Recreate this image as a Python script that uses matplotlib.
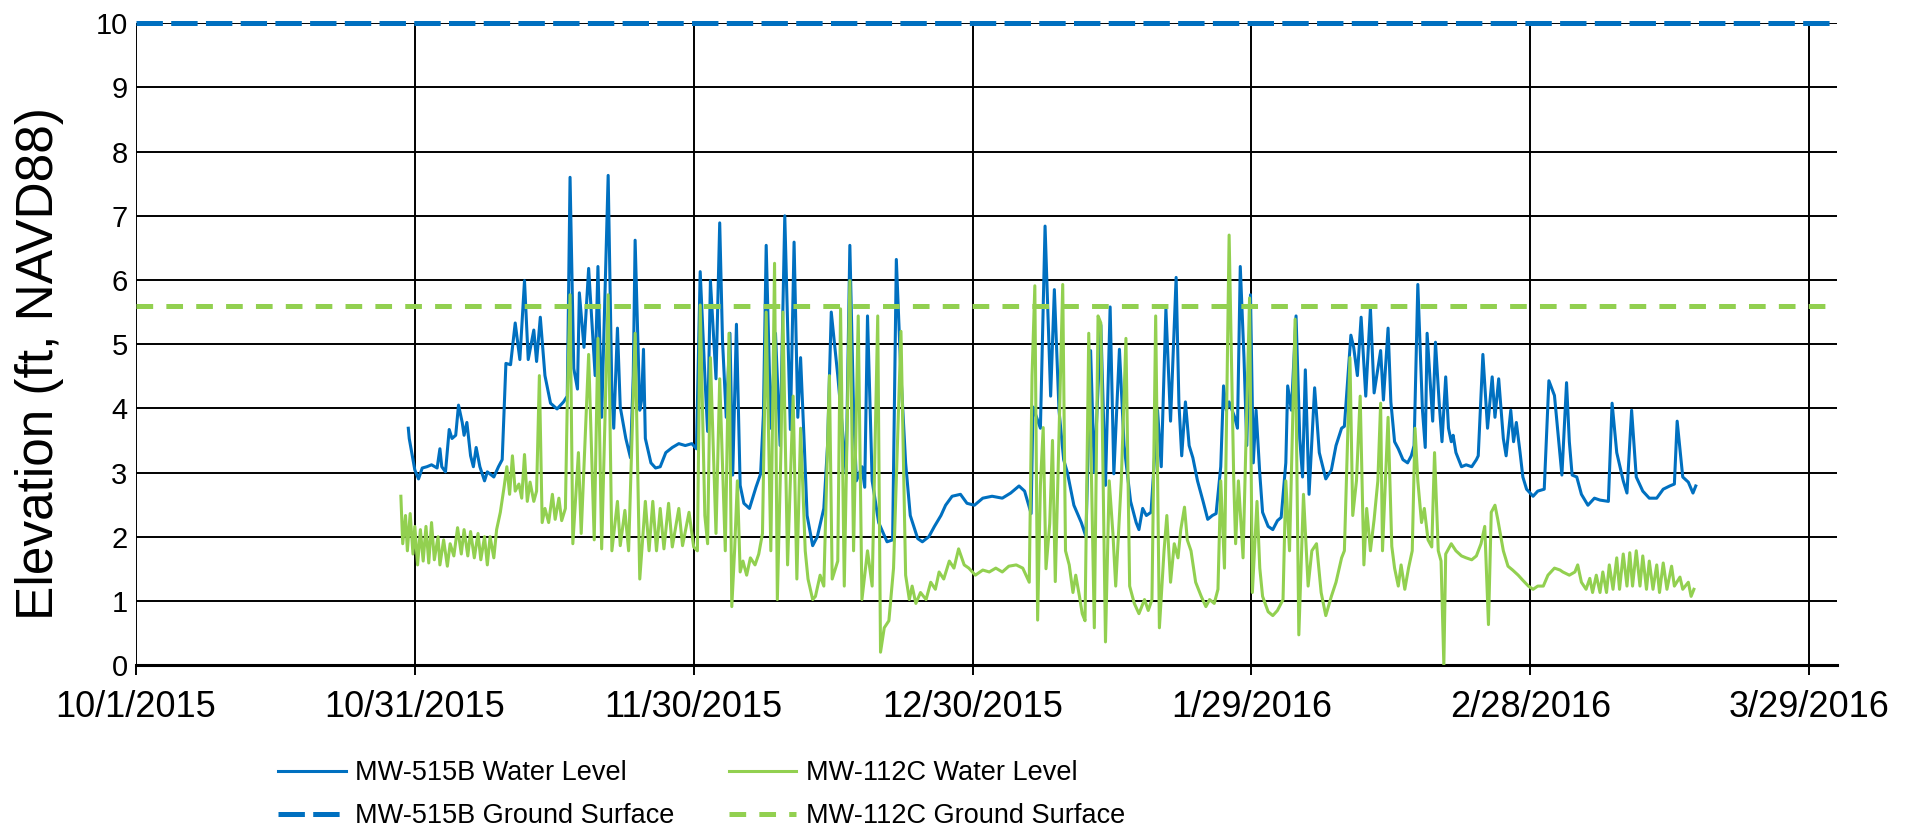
import numpy as np
import pandas as pd
import matplotlib
matplotlib.use('Agg')
from matplotlib import pyplot as plt

# days after 10/1/2015 and elevations (ft, NAVD88)
mw515b_days = [29.3, 29.4, 30.0, 30.4, 30.8, 31.3, 31.8, 32.4, 32.7, 32.9, 33.3, 33.7, 34.0, 34.4, 34.7,
               35.1, 35.3, 35.6, 36.0, 36.3, 36.6, 37.0, 37.5, 37.8, 38.5, 39.0, 39.4, 39.6, 39.8, 40.3,
               40.8, 41.3, 41.8, 42.2, 42.8, 43.1, 43.5, 44.0, 44.6, 45.3, 46.0, 46.4, 46.7, 47.1, 47.5,
               47.7, 48.2, 48.7, 49.4, 49.7, 50.1, 50.8, 51.2, 51.4, 51.8, 52.1, 52.7, 53.2, 53.5, 53.7,
               54.2, 54.4, 54.6, 54.8, 55.4, 55.9, 56.4, 57.0, 57.7, 58.4, 59.1, 59.8, 60.3, 60.7, 61.2,
               61.5, 61.8, 62.4, 62.8, 63.1, 63.5, 63.9, 64.2, 64.6, 65.0, 65.4, 66.0, 66.7, 67.2, 67.5,
               67.8, 68.3, 68.8, 69.3, 69.8, 70.4, 70.8, 71.2, 71.5, 71.9, 72.2, 72.8, 73.3, 74.0, 74.4,
               74.8, 75.5, 75.8, 76.4, 76.8, 77.2, 77.5, 78.1, 78.4, 78.7, 79.2, 79.9, 80.8, 81.4, 81.8,
               82.3, 82.8, 83.3, 84.1, 84.6, 85.3, 85.9, 86.6, 87.1, 87.8, 88.7, 89.4, 90.2, 91.1, 92.1,
               93.2, 94.1, 95.0, 95.6, 96.3, 96.5, 97.3, 97.8, 98.4, 98.8, 99.3, 99.8, 100.2, 100.9, 101.7,
               102.2, 102.7, 103.1, 103.8, 104.3, 104.8, 105.2, 105.8, 106.3, 107.0, 107.6, 107.9, 108.3,
               108.7, 109.2, 109.9, 110.3, 110.8, 111.3, 111.9, 112.2, 112.5, 112.9, 113.3, 113.7, 114.2,
               114.8, 115.3, 115.8, 116.2, 116.7, 117.0, 117.3, 117.6, 118.2, 118.5, 118.8, 119.2, 119.5,
               119.9, 120.2, 120.5, 120.9, 121.2, 121.8, 122.3, 122.8, 123.2, 123.7, 123.9, 124.3, 124.8,
               125.2, 125.5, 125.8, 126.2, 126.8, 127.3, 128.0, 128.6, 129.1, 129.7, 130.0, 130.7, 131.0,
               131.4, 131.8, 132.3, 132.8, 133.2, 133.9, 134.2, 134.7, 135.0, 135.4, 135.8, 136.3, 136.8,
               137.2, 137.5, 137.9, 138.4, 138.7, 138.9, 139.3, 139.5, 139.8, 140.2, 140.5, 140.9, 141.2,
               141.5, 141.7, 142.0, 142.6, 143.1, 143.7, 144.2, 144.4, 144.9, 145.4, 145.9, 146.2, 146.6,
               147.1, 147.4, 147.9, 148.2, 148.5, 148.9, 149.2, 149.6, 150.3, 150.8, 151.5, 151.7, 152.0,
               152.6, 153.1, 153.4, 153.9, 154.2, 154.5, 155.0, 155.5, 156.2, 156.9, 157.5, 158.4, 158.8,
               159.3, 160.0, 160.4, 160.9, 161.4, 162.1, 162.8, 163.6, 164.3, 165.0, 165.5, 165.8, 166.4,
               167.0, 167.5, 167.8]
mw515b_level = [3.69, 3.53, 3.04, 2.90, 3.07, 3.09, 3.12, 3.07, 3.37, 3.09, 3.01, 3.67, 3.53, 3.58, 4.05,
                3.78, 3.58, 3.78, 3.26, 3.09, 3.39, 3.09, 2.87, 3.01, 2.93, 3.09, 3.20, 3.97, 4.70, 4.68,
                5.33, 4.76, 5.99, 4.76, 5.22, 4.73, 5.42, 4.51, 4.08, 3.99, 4.10, 4.19, 7.60, 4.62, 4.30,
                5.80, 4.95, 6.18, 4.51, 6.21, 3.86, 7.63, 4.24, 3.69, 5.25, 4.02, 3.53, 3.23, 4.51, 6.62,
                3.97, 4.13, 4.92, 3.53, 3.15, 3.07, 3.09, 3.31, 3.39, 3.45, 3.42, 3.45, 3.37, 6.13, 4.51,
                3.64, 5.99, 4.46, 6.89, 5.06, 3.86, 5.17, 2.96, 5.31, 2.80, 2.52, 2.44, 2.77, 2.98, 3.90,
                6.54, 3.69, 5.17, 3.42, 7.00, 3.67, 6.59, 3.86, 4.79, 3.42, 2.33, 1.86, 2.00, 2.44, 3.42,
                5.50, 4.51, 4.02, 2.98, 6.54, 3.97, 2.87, 3.09, 2.77, 5.44, 2.87, 2.22, 1.92, 1.95, 6.32,
                4.51, 3.15, 2.33, 1.97, 1.92, 2.00, 2.16, 2.33, 2.49, 2.63, 2.66, 2.52, 2.49, 2.60, 2.63,
                2.60, 2.68, 2.79, 2.71, 2.36, 4.02, 3.69, 6.84, 4.19, 5.85, 3.97, 3.20, 3.00, 2.49, 2.22,
                2.00, 4.90, 3.00, 5.30, 2.80, 5.58, 2.98, 4.92, 3.42, 2.55, 2.22, 2.11, 2.44,
                2.33, 2.38, 3.97, 3.09, 5.55, 3.80, 6.04, 4.08, 3.26, 4.10, 3.42, 3.23, 2.87,
                2.55, 2.27, 2.33, 2.36, 3.09, 4.35, 3.97, 4.10, 3.86, 3.69, 6.21, 4.79, 3.42,
                5.77, 3.15, 3.97, 2.98, 2.38, 2.16, 2.11, 2.25, 2.30, 3.15, 4.35, 3.97, 5.44,
                3.53, 2.93, 4.60, 2.66, 4.32, 3.31, 2.90, 3.04, 3.42, 3.69, 3.72, 5.14, 4.95,
                4.51, 5.42, 4.19, 5.56, 4.24, 4.90, 4.13, 5.25, 4.10, 3.48, 3.37, 3.20, 3.15,
                3.26, 3.42, 5.93, 3.97, 3.39, 5.17, 4.24, 3.80, 5.03, 4.08, 3.48, 4.49, 3.69,
                3.48, 3.58, 3.31, 3.09, 3.12, 3.09, 3.20, 3.26, 4.84, 3.69, 4.49, 3.86, 4.46,
                3.53, 3.26, 3.97, 3.48, 3.78, 3.31, 2.93, 2.74, 2.63, 2.71, 2.74, 3.42, 4.43,
                4.20, 3.42, 2.96, 4.40, 3.48, 2.96, 2.93, 2.66, 2.49, 2.60, 2.57, 2.55, 4.08,
                3.31, 2.87, 2.68, 3.97, 2.93, 2.71, 2.60, 2.60, 2.74, 2.79, 2.82, 3.80, 2.93,
                2.85, 2.68, 2.79]

mw112c_days = [28.5, 28.7, 29.0, 29.2, 29.5, 29.8, 30.0, 30.3, 30.6, 30.9, 31.2, 31.5, 31.8, 32.1, 32.5,
               32.7, 33.1, 33.5, 33.8, 34.2, 34.6, 35.0, 35.3, 35.7, 36.0, 36.4, 36.8, 37.1, 37.5, 37.8,
               38.1, 38.5, 38.8, 39.2, 39.6, 39.9, 40.2, 40.5, 40.8, 41.2, 41.5, 41.8, 42.1, 42.4, 42.8,
               43.1, 43.4, 43.7, 44.0, 44.4, 44.8, 45.1, 45.5, 45.8, 46.2, 46.4, 46.7, 47.0, 47.6, 47.9,
               48.7, 49.3, 49.7, 50.1, 50.8, 51.2, 51.8, 52.1, 52.6, 53.0, 53.7, 54.2, 54.8, 55.2, 55.6,
               56.0, 56.4, 56.8, 57.3, 57.7, 58.4, 58.8, 59.5, 60.0, 60.4, 60.7, 61.2, 61.5, 61.8, 62.4,
               62.8, 63.4, 63.8, 64.1, 64.4, 64.7, 65.0, 65.3, 65.7, 66.1, 66.6, 67.0, 67.4, 67.8, 68.3,
               68.7, 69.0, 69.4, 69.6, 70.1, 70.7, 71.1, 71.5, 72.0, 72.3, 72.8, 73.1, 73.6, 74.0, 74.6,
               74.9, 75.5, 75.8, 76.2, 76.8, 77.2, 77.7, 78.1, 78.7, 79.2, 79.8, 80.1, 80.5, 81.0, 81.5,
               82.3, 82.8, 83.2, 83.5, 83.9, 84.4, 85.0, 85.5, 86.0, 86.4, 86.9, 87.5, 88.0, 88.5, 89.1,
               89.6, 90.3, 91.1, 91.8, 92.5, 93.2, 93.9, 94.7, 95.4, 96.1, 96.4, 96.7, 97.0, 97.3, 97.6,
               97.9, 98.3, 98.6, 98.9, 99.2, 99.5, 99.7, 100.0, 100.4, 100.8, 101.1, 101.5, 101.8, 102.1,
               102.5, 103.1, 103.5, 103.8, 104.3, 104.7, 105.1, 105.4, 106.0, 106.5, 106.9, 107.4, 107.9,
               108.5, 108.9, 109.3, 109.7, 110.1, 110.6, 110.9, 111.3, 111.7, 112.1, 112.4, 112.8, 113.1,
               113.5, 114.0, 114.6, 115.1, 115.5, 116.0, 116.4, 116.7, 117.1, 117.6, 118.1, 118.3, 118.6,
               119.1, 119.8, 120.1, 120.6, 120.9, 121.2, 121.8, 122.3, 122.8, 123.4, 123.7, 124.1, 124.7,
               125.1, 125.6, 126.1, 126.5, 127.0, 127.5, 128.0, 128.6, 129.1, 129.7, 130.0, 130.6, 130.9,
               131.3, 131.7, 132.1, 132.4, 132.8, 133.2, 133.6, 133.9, 134.1, 134.7, 135.1, 135.4, 135.8,
               136.1, 136.5, 136.9, 137.3, 137.6, 137.9, 138.3, 138.6, 139.0, 139.4, 139.7, 140.1, 140.4,
               140.7, 140.9, 141.5, 142.0, 142.6, 143.1, 143.7, 144.2, 144.7, 145.1, 145.5, 145.8, 146.2,
               146.5, 147.1, 147.6, 148.1, 148.7, 149.2, 149.8, 150.3, 150.8, 151.4, 151.9, 152.6, 153.2,
               153.5, 154.2, 154.8, 155.1, 155.5, 156.0, 156.4, 156.7, 157.1, 157.5, 157.8, 158.2, 158.5,
               158.9, 159.3, 159.6, 160.0, 160.4, 160.7, 161.0, 161.4, 161.8, 162.1, 162.5, 162.8, 163.2,
               163.6, 163.9, 164.3, 164.7, 165.2, 165.5, 166.1, 166.4, 167.0, 167.3, 167.6]
mw112c_level = [2.63, 1.89, 2.33, 1.78, 2.36, 1.73, 2.16, 1.56, 2.11, 1.62, 2.16, 1.59, 2.22, 1.64, 2.00,
                1.56, 1.95, 1.54, 1.89, 1.70, 2.14, 1.73, 2.11, 1.70, 2.08, 1.67, 2.05, 1.64, 2.00, 1.56,
                2.00, 1.67, 2.11, 2.38, 2.77, 3.09, 2.66, 3.26, 2.71, 2.82, 2.60, 3.28, 2.55, 2.85, 2.55,
                2.71, 4.51, 2.22, 2.44, 2.22, 2.66, 2.27, 2.60, 2.25, 2.44, 4.08, 5.77, 1.89, 3.31, 2.05,
                4.84, 1.95, 5.09, 1.81, 5.77, 1.78, 2.55, 1.86, 2.41, 1.78, 5.17, 1.34, 2.55, 1.78, 2.55,
                1.78, 2.44, 1.81, 2.52, 1.84, 2.44, 1.86, 2.38, 1.84, 1.78, 5.61, 2.33, 1.89, 4.79, 2.05,
                4.46, 1.78, 5.17, 0.91, 1.78, 2.87, 1.45, 1.62, 1.40, 1.67, 1.56, 1.73, 2.05, 5.50, 1.78,
                6.26, 1.02, 3.42, 5.50, 1.56, 4.19, 1.34, 3.69, 1.78, 1.34, 1.02, 1.07, 1.40, 1.23, 4.51,
                1.34, 1.62, 5.55, 1.23, 5.99, 1.78, 5.44, 1.02, 1.78, 1.23, 5.44, 0.20, 0.58, 0.69, 1.51,
                5.20, 1.40, 1.02, 1.23, 0.96, 1.13, 1.02, 1.29, 1.18, 1.45, 1.34, 1.62, 1.51, 1.81, 1.56,
                1.51, 1.40, 1.48, 1.45, 1.51, 1.45, 1.54, 1.56, 1.51, 1.29, 4.51, 5.91, 0.70, 2.80, 3.70,
                1.50, 2.20, 3.50, 1.30, 3.00, 4.80, 5.93, 1.78, 1.56, 1.13, 1.40, 1.07, 0.80, 0.69,
                5.17, 0.58, 5.44, 5.33, 0.36, 2.87, 2.05, 1.23, 2.87, 5.09, 1.23, 0.96, 0.80,
                1.02, 0.85, 1.02, 5.44, 0.58, 1.78, 2.33, 1.29, 1.89, 1.67, 2.11, 2.46, 1.95,
                1.78, 1.29, 1.07, 0.91, 1.02, 0.96, 1.18, 2.87, 1.51, 6.70, 2.87, 1.89, 2.87,
                1.67, 5.72, 1.13, 2.55, 1.51, 1.07, 0.83, 0.77, 0.85, 1.02, 2.87, 1.78, 5.39,
                0.47, 2.66, 1.23, 1.78, 1.89, 1.13, 0.77, 1.07, 1.29, 1.67, 1.78, 4.79, 2.33,
                2.87, 4.19, 1.56, 2.44, 1.78, 2.27, 2.87, 4.08, 1.78, 3.86, 1.85, 1.51, 1.23,
                1.56, 1.18, 1.51, 1.78, 3.69, 2.87, 2.22, 2.44, 1.95, 1.84, 3.31, 1.78, 1.62,
                0.00, 1.73, 1.89, 1.78, 1.70, 1.67, 1.64, 1.70, 1.89, 2.16, 0.63, 2.38, 2.49,
                2.27, 1.78, 1.54, 1.48, 1.40, 1.32, 1.23, 1.18, 1.23, 1.23, 1.40, 1.51, 1.48,
                1.45, 1.40, 1.45, 1.56, 1.29, 1.18, 1.35, 1.13, 1.40, 1.13, 1.45, 1.13, 1.56,
                1.18, 1.67, 1.18, 1.73, 1.23, 1.75, 1.23, 1.78, 1.23, 1.70, 1.18, 1.62, 1.18,
                1.56, 1.13, 1.59, 1.18, 1.54, 1.23, 1.37, 1.18, 1.29, 1.07, 1.18]

mw515b_ground = 10.0
mw112c_ground = 5.6

start_date = '2015-10-01'
end_date = '2016-04-01'
tick_dates = ['2015-10-01', '2015-10-31', '2015-11-30', '2015-12-30',
              '2016-01-29', '2016-02-28', '2016-03-29']
y_ticks = [0, 1, 2, 3, 4, 5, 6, 7, 8, 9, 10]

blue = '#0070C0'
green = '#92D050'


def to_dates(days):
    return pd.Timestamp(start_date) + pd.to_timedelta(np.array(days), unit='D')


def main():
    plt.rcParams['font.family'] = ['Liberation Sans', 'DejaVu Sans']
    plt.rcParams['lines.scale_dashes'] = False

    fig = plt.figure(figsize=(19.12, 8.32), dpi=100)
    ax = fig.add_axes([0.0711, 0.2007, 0.8897, 0.7713])

    ax.plot(to_dates(mw515b_days), mw515b_level, color=blue, lw=2.2,
            label='MW-515B Water Level', zorder=3)
    ax.axhline(mw515b_ground, color=blue, lw=3.6, dashes=(19, 6),
               label='MW-515B Ground Surface', zorder=4, clip_on=False)
    ax.plot(to_dates(mw112c_days), mw112c_level, color=green, lw=2.2,
            label='MW-112C Water Level', zorder=3)
    ax.axhline(mw112c_ground, color=green, lw=3.6, dashes=(12, 9.5),
               label='MW-112C Ground Surface', zorder=4)

    ticks = pd.to_datetime(tick_dates)
    ax.set_xlim(pd.Timestamp(start_date), pd.Timestamp(end_date))
    ax.set_xticks(ticks)
    ax.set_xticklabels([f'{d.month}/{d.day}/{d.year}' for d in ticks])
    ax.set_ylim(0, 10)
    ax.set_yticks(y_ticks)

    ax.grid(True, color='black', lw=1.4, zorder=1)
    ax.set_axisbelow(True)
    for side in ['top', 'right', 'left']:
        ax.spines[side].set_visible(False)
    ax.spines['bottom'].set_linewidth(2.2)
    ax.tick_params(axis='x', length=7, width=1.4, pad=11, labelsize=26)
    ax.tick_params(axis='y', length=0, pad=6, labelsize=21)

    ax.set_ylabel('Elevation (ft, NAVD88)', fontsize=37)
    ax.yaxis.set_label_coords(-0.042, 0.47)

    fig.legend(loc='upper left', bbox_to_anchor=(0.1454, 0.086), ncol=2,
               frameon=False, fontsize=19.5, handlelength=2.5, handletextpad=0.35,
               columnspacing=2.0, labelspacing=0.62, borderpad=0, borderaxespad=0)

    fig.savefig('out.png', dpi=100)


if __name__ == "__main__":
    main()
